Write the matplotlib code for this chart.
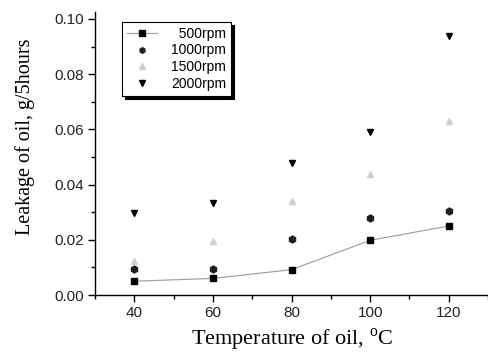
import matplotlib.pyplot as plt
from matplotlib.ticker import MultipleLocator

plt.rcParams['mathtext.fontset'] = 'custom'
plt.rcParams['mathtext.rm'] = 'Liberation Serif'

# Data
temps = [40, 60, 80, 100, 120]
leak_500 = [0.0050, 0.0060, 0.0092, 0.0198, 0.0250]
leak_1000 = [0.0095, 0.0095, 0.0203, 0.0278, 0.0303]
leak_1500 = [0.0125, 0.0195, 0.0340, 0.0440, 0.0632]
leak_2000 = [0.0298, 0.0335, 0.0478, 0.0590, 0.0937]
# figure space in front of 500 so the labels line up on the right
labels = ['\u2007500rpm', '1000rpm', '1500rpm', '2000rpm']

sans = 'Liberation Sans'
serif = 'Liberation Serif'

fig = plt.figure(figsize=(4.88, 3.55), dpi=100)
ax = fig.add_axes([0.195, 0.169, 0.805, 0.797])

ax.plot(temps, leak_500, color='#9a9a9a', lw=0.8, marker='s', ms=5,
        mfc='black', mec='black', label=labels[0])
ax.plot(temps, leak_1000, ls='none', marker='h', ms=5,
        color='#202020', label=labels[1])
ax.plot(temps, leak_1500, ls='none', marker='^', ms=5,
        color='#cfcfcf', label=labels[2])
ax.plot(temps, leak_2000, ls='none', marker='v', ms=5,
        color='black', label=labels[3])

ax.set_xlim(30, 130)
ax.set_ylim(0, 0.1025)
ax.xaxis.set_major_locator(MultipleLocator(20))
ax.xaxis.set_minor_locator(MultipleLocator(10))
ax.yaxis.set_minor_locator(MultipleLocator(0.01))
ax.set_yticks([0, 0.02, 0.04, 0.06, 0.08, 0.10])
ax.set_yticklabels(['0.00', '0.02', '0.04', '0.06', '0.08', '0.10'])

ax.spines['top'].set_visible(False)
ax.spines['right'].set_visible(False)
for s in ['left', 'bottom']:
    ax.spines[s].set_linewidth(1.0)
ax.tick_params(which='major', direction='out', length=5, width=1,
               labelsize=11, pad=3)
ax.tick_params(which='minor', direction='out', length=3, width=1)
for t in ax.get_xticklabels() + ax.get_yticklabels():
    t.set_fontfamily(sans)
    t.set_color('#222222')

ax.set_xlabel('Temperature of oil, $^{\\rm o}$C', fontfamily=serif,
              fontsize=16, labelpad=5)
ax.set_ylabel('Leakage of oil, g/5hours', fontfamily=serif, fontsize=14.5)
ax.yaxis.set_label_coords(-0.152, 0.56)

leg = ax.legend(loc='upper left', bbox_to_anchor=(0.05, 0.99),
                prop={'family': sans, 'size': 10}, frameon=True,
                fancybox=False, handlelength=2.2, handletextpad=1.0,
                borderpad=0.35, labelspacing=0.2, markerscale=0.8,
                shadow={'facecolor': 'black', 'edgecolor': 'black',
                        'alpha': 1})
leg.get_frame().set_edgecolor('black')
leg.get_frame().set_linewidth(0.8)

fig.savefig('out.png', dpi=100)
